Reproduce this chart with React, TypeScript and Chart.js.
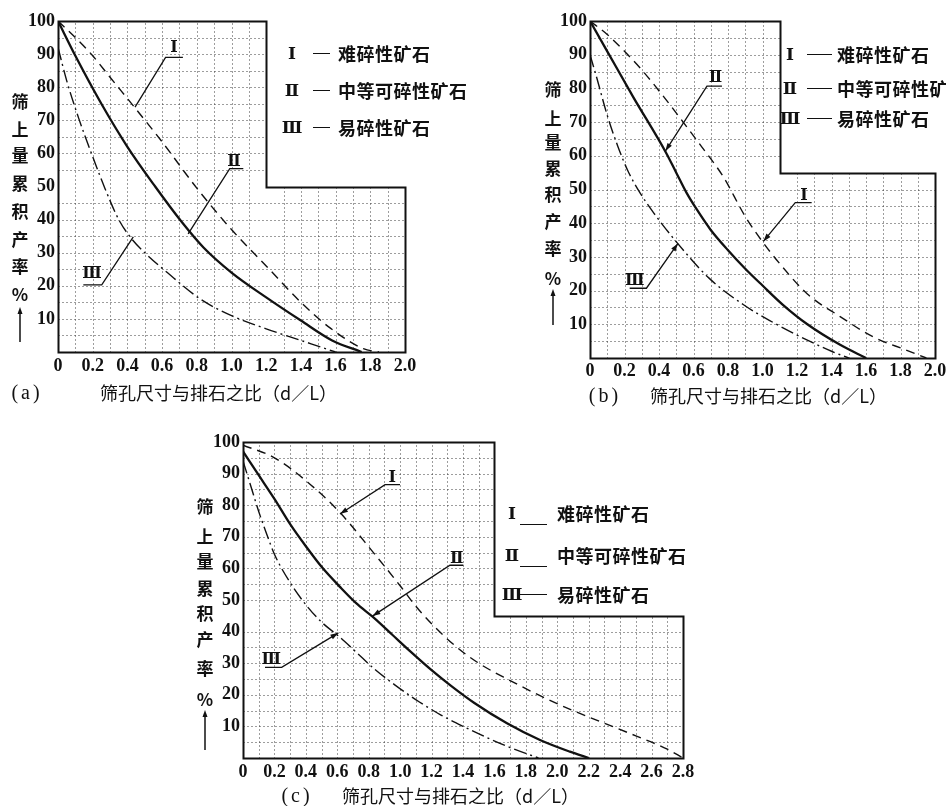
import React, { useEffect, useRef } from 'react';
import { Chart, registerables } from 'chart.js';

Chart.register(...registerables);

// ---------- text ----------
const romanLabels = ['Ⅰ', 'Ⅱ', 'Ⅲ'];
const seriesNames = ['难碎性矿石', '中等可碎性矿石', '易碎性矿石'];
const yTitleChars = ['筛', '上', '量', '累', '积', '产', '率', '%'];
const xTitle = '筛孔尺寸与排石之比（d／L）';
const panelTags = ['(a)', '(b)', '(c)'];

// ---------- tick labels ----------
const xLabelsAB = ['0', '0.2', '0.4', '0.6', '0.8', '1.0', '1.2', '1.4', '1.6', '1.8', '2.0'];
const xLabelsC = ['0', '0.2', '0.4', '0.6', '0.8', '1.0', '1.2', '1.4', '1.6', '1.8', '2.0', '2.2', '2.4', '2.6', '2.8'];
const yLabels = ['10', '20', '30', '40', '50', '60', '70', '80', '90', '100'];

// ---------- data: [d/L, cumulative oversize %] ----------
// (a)
const aHard = [[0, 100], [0.1, 95], [0.2, 89.5], [0.3, 83], [0.44, 74], [0.6, 63.5], [0.8, 49.5], [1.0, 37], [1.2, 26], [1.4, 15], [1.57, 7.2], [1.76, 1], [1.85, 0]];
const aMedium = [[0, 100], [0.1, 89.5], [0.25, 75], [0.4, 62], [0.56, 50], [0.71, 39.5], [0.84, 31.5], [1.0, 24], [1.2, 16.5], [1.4, 9.5], [1.58, 3.5], [1.75, 0]];
const aEasy = [[0, 92], [0.05, 82], [0.12, 70.5], [0.2, 59], [0.27, 49.5], [0.35, 40], [0.42, 34.5], [0.5, 30], [0.63, 24], [0.82, 16], [1.0, 11], [1.2, 7], [1.4, 3.5], [1.6, 0]];
// (b)
const bHard = [[0, 100], [0.1, 96], [0.2, 91], [0.3, 85.5], [0.42, 78], [0.54, 70], [0.65, 62.5], [0.77, 54], [0.9, 42], [1.0, 34.5], [1.1, 28], [1.26, 19], [1.45, 12.3], [1.64, 6.3], [1.83, 2.4], [1.95, 0]];
const bMedium = [[0, 100], [0.1, 91], [0.25, 77.5], [0.44, 61], [0.5, 55], [0.56, 49], [0.62, 44], [0.7, 38], [0.8, 32], [0.9, 26.5], [1.0, 21.5], [1.12, 15.7], [1.26, 10], [1.45, 3.9], [1.6, 0]];
const bEasy = [[0, 90], [0.04, 83], [0.1, 72], [0.16, 63], [0.22, 55.5], [0.29, 49], [0.37, 43], [0.5, 34.5], [0.69, 23.7], [0.89, 15.8], [1.07, 10.3], [1.26, 5.3], [1.4, 2], [1.5, 0]];
// (c)
const cHard = [[0, 99], [0.2, 95], [0.43, 86.5], [0.62, 77.5], [0.83, 65], [1.0, 54.5], [1.1, 48], [1.2, 42.5], [1.35, 35.5], [1.5, 30], [1.7, 24.5], [1.9, 19.5], [2.1, 15], [2.3, 11], [2.5, 7], [2.7, 2.8], [2.8, 0]];
const cMedium = [[0, 97], [0.1, 89.5], [0.2, 82], [0.3, 74], [0.4, 67], [0.5, 60.5], [0.62, 54], [0.72, 49], [0.83, 44.5], [0.95, 39], [1.07, 33.5], [1.2, 27.8], [1.32, 23], [1.47, 17.5], [1.68, 11], [1.89, 5.7], [2.08, 2], [2.2, 0]];
const cEasy = [[0, 94], [0.05, 86], [0.1, 78], [0.15, 71], [0.2, 64.5], [0.3, 55.5], [0.4, 48.5], [0.5, 43], [0.61, 38.5], [0.72, 33.5], [0.84, 28], [0.97, 23], [1.12, 17.8], [1.26, 13.6], [1.41, 9.8], [1.55, 6.5], [1.7, 3.3], [1.88, 0]];

// callouts (leader lines) in data coordinates: tip on curve, corner, bar end
const calloutsA = [
  { series: 0, path: [[0.444, 74], [0.62, 89], [0.72, 89]], label: [0.668, 91.8] },
  { series: 1, path: [[0.75, 35.7], [0.99, 55.4], [1.068, 55.4]], label: [1.015, 57.6] },
  { series: 2, path: [[0.434, 34.8], [0.252, 20.3], [0.146, 20.3]], label: [0.196, 23.6] },
];
const calloutsB = [
  { series: 1, path: [[0.437, 61.4], [0.678, 80.7], [0.765, 80.7]], label: [0.727, 83] },
  { series: 0, path: [[1.005, 34.6], [1.19, 46.1], [1.285, 46.1]], label: [1.24, 48.2] },
  { series: 2, path: [[0.51, 34], [0.327, 20.7], [0.23, 20.7]], label: [0.26, 22.8] },
];
const calloutsC = [
  { series: 0, path: [[0.617, 77.2], [0.904, 86.5], [0.999, 86.5]], label: [0.95, 88.6] },
  { series: 1, path: [[0.824, 44.9], [1.317, 61], [1.402, 61]], label: [1.36, 63] },
  { series: 2, path: [[0.607, 39.6], [0.246, 28.7], [0.14, 28.7]], label: [0.18, 31] },
];

const lineStyles = [
  { dash: [9, 6], width: 1.4 },
  { dash: [] as number[], width: 2.3 },
  { dash: [13, 4, 2, 4], width: 1.4 },
];

const CJK = '"Noto Sans CJK SC", sans-serif';
const SERIF = '"Liberation Serif", serif';
const NUMERAL = '"DejaVu Serif", "Noto Sans CJK SC", serif';

type Spec = {
  id: number;
  canvas: { left: number; top: number; w: number; h: number };
  area: { left: number; top: number; right: number; bottom: number };
  xMax: number;
  xLabels: string[];
  stepX: number;
  stepY: number;
  series: number[][][];
  callouts: { series: number; path: number[][]; label: number[] }[];
  arrows: boolean;
  tickPadX: number;
  yTitle: { x: number; ys: number[]; arrow: number[] };
  xTitleAt: { tagX: number; textX: number; y: number };
  legend: { numX: number; lineX1: number; lineX2: number; lineDy: number[]; textX: number; ys: number[]; names: string[] };
};

const specs: Spec[] = [
  {
    id: 0,
    canvas: { left: 8, top: 5, w: 420, h: 380 },
    area: { left: 50, top: 16, right: 397, bottom: 347 },
    xMax: 2.0, xLabels: xLabelsAB, stepX: 1.2, stepY: 50,
    series: [aHard, aMedium, aEasy], callouts: calloutsA, arrows: false, tickPadX: 4,
    yTitle: { x: 20, ys: [100, 128, 154, 182, 210, 238, 265, 293], arrow: [307, 342] },
    xTitleAt: { tagX: 27, textX: 100, y: 392 },
    legend: { numX: 292, lineX1: 313, lineX2: 330, lineDy: [0, 0, 0], textX: 338, ys: [53, 90, 127], names: seriesNames },
  },
  {
    id: 1,
    canvas: { left: 540, top: 5, w: 420, h: 380 },
    area: { left: 50, top: 16, right: 395, bottom: 353 },
    xMax: 2.0, xLabels: xLabelsAB, stepX: 1.1, stepY: 55,
    series: [bHard, bMedium, bEasy], callouts: calloutsB, arrows: true, tickPadX: 3,
    yTitle: { x: 553, ys: [88, 117, 141, 167, 193, 220, 247, 277], arrow: [289, 325] },
    xTitleAt: { tagX: 605, textX: 650, y: 395 },
    legend: { numX: 790, lineX1: 807, lineX2: 832, lineDy: [0, 0, 0], textX: 837, ys: [54, 88, 118], names: seriesNames },
  },
  {
    id: 2,
    canvas: { left: 195, top: 426, w: 520, h: 380 },
    area: { left: 48, top: 16, right: 488, bottom: 332 },
    xMax: 2.8, xLabels: xLabelsC, stepX: 1.6, stepY: 45,
    series: [cHard, cMedium, cEasy], callouts: calloutsC, arrows: true, tickPadX: 4,
    yTitle: { x: 205, ys: [505, 535, 560, 587, 612, 638, 667, 698], arrow: [710, 750] },
    xTitleAt: { tagX: 297, textX: 342, y: 795 },
    legend: { numX: 512, lineX1: 520, lineX2: 547, lineDy: [11, 11, 0], textX: 557, ys: [513, 555, 594], names: seriesNames },
  },
];

function buildChart(canvas: HTMLCanvasElement, spec: Spec) {
  const framePlugin = {
    id: 'lframe' + spec.id,
    beforeDatasetsDraw(chart: any) {
      const { ctx } = chart;
      const xs = chart.scales.x;
      const ys = chart.scales.y;
      const px = (v: number) => Math.round(xs.getPixelForValue(v)) + 0.5;
      const py = (v: number) => Math.round(ys.getPixelForValue(v)) + 0.5;
      ctx.save();
      // dotted grid inside the L-shaped field
      ctx.strokeStyle = '#3a3a3a';
      ctx.lineWidth = 1;
      ctx.setLineDash([1, 3]);
      const nx = Math.round(spec.xMax * 10);
      for (let k = 1; k < nx; k++) {
        const v = k / 10;
        if (Math.abs(v - spec.stepX) < 1e-6) continue;
        const top = v < spec.stepX ? 100 : spec.stepY;
        ctx.beginPath();
        ctx.moveTo(px(v), py(0));
        ctx.lineTo(px(v), py(top));
        ctx.stroke();
      }
      for (let k = 1; k < 20; k++) {
        const v = k * 5;
        if (Math.abs(v - spec.stepY) < 1e-6) continue;
        const right = v > spec.stepY ? spec.stepX : spec.xMax;
        ctx.beginPath();
        ctx.moveTo(px(0), py(v));
        ctx.lineTo(px(right), py(v));
        ctx.stroke();
      }
      // L-shaped frame
      ctx.setLineDash([]);
      ctx.strokeStyle = '#111';
      ctx.lineWidth = 2;
      ctx.beginPath();
      ctx.moveTo(px(0), py(0));
      ctx.lineTo(px(0), py(100));
      ctx.lineTo(px(spec.stepX), py(100));
      ctx.lineTo(px(spec.stepX), py(spec.stepY));
      ctx.lineTo(px(spec.xMax), py(spec.stepY));
      ctx.lineTo(px(spec.xMax), py(0));
      ctx.closePath();
      ctx.stroke();
      ctx.restore();
    },
    afterDatasetsDraw(chart: any) {
      const { ctx } = chart;
      const xs = chart.scales.x;
      const ys = chart.scales.y;
      ctx.save();
      ctx.strokeStyle = '#111';
      ctx.fillStyle = '#111';
      ctx.lineWidth = 1.3;
      ctx.setLineDash([]);
      for (const c of spec.callouts) {
        const pts = c.path.map(([x, y]) => [xs.getPixelForValue(x), ys.getPixelForValue(y)]);
        ctx.beginPath();
        ctx.moveTo(pts[0][0], pts[0][1]);
        for (let i = 1; i < pts.length; i++) ctx.lineTo(pts[i][0], pts[i][1]);
        ctx.stroke();
        if (spec.arrows) {
          const [tx, ty] = pts[0];
          const [ox, oy] = pts[1];
          const a = Math.atan2(ty - oy, tx - ox);
          const L = 8, W = 2.6;
          ctx.beginPath();
          ctx.moveTo(tx, ty);
          ctx.lineTo(tx - L * Math.cos(a) + W * Math.sin(a), ty - L * Math.sin(a) - W * Math.cos(a));
          ctx.lineTo(tx - L * Math.cos(a) - W * Math.sin(a), ty - L * Math.sin(a) + W * Math.cos(a));
          ctx.closePath();
          ctx.fill();
        }
        ctx.font = `bold 16px ${NUMERAL}`;
        ctx.textAlign = 'center';
        ctx.textBaseline = 'middle';
        ctx.fillText(romanLabels[c.series], xs.getPixelForValue(c.label[0]), ys.getPixelForValue(c.label[1]));
      }
      ctx.restore();
    },
  };

  const c = spec.canvas;
  const a = spec.area;
  return new Chart(canvas, {
    type: 'line',
    data: {
      datasets: spec.series.map((s, i) => ({
        label: seriesNames[i],
        data: s.map(([x, y]) => ({ x, y })),
        borderColor: '#111',
        borderWidth: lineStyles[i].width,
        borderDash: lineStyles[i].dash,
        pointRadius: 0,
        fill: false,
        cubicInterpolationMode: 'monotone' as const,
      })),
    },
    options: {
      responsive: false,
      animation: false,
      devicePixelRatio: 1,
      layout: { padding: { top: a.top, right: c.w - a.right, left: 0, bottom: 0 } },
      plugins: { legend: { display: false }, tooltip: { enabled: false } },
      scales: {
        x: {
          type: 'linear',
          min: 0,
          max: spec.xMax,
          grid: { display: false, drawTicks: false },
          border: { display: false },
          ticks: {
            stepSize: 0.2,
            autoSkip: false,
            maxRotation: 0,
            padding: spec.tickPadX,
            color: '#111',
            font: { family: '"Liberation Serif"', size: 18, weight: 'bold' },
            callback: (_v: any, i: number) => spec.xLabels[i],
          },
          afterFit: (s: any) => {
            s.height = c.h - a.bottom;
            s.paddingLeft = 0;
            s.paddingRight = 0;
          },
        },
        y: {
          type: 'linear',
          min: 0,
          max: 100,
          grid: { display: false, drawTicks: false },
          border: { display: false },
          ticks: {
            stepSize: 10,
            autoSkip: false,
            padding: 3,
            color: '#111',
            font: { family: '"Liberation Serif"', size: 18, weight: 'bold' },
            callback: (_v: any, i: number) => (i === 0 ? '' : yLabels[i - 1]),
          },
          afterFit: (s: any) => {
            s.width = a.left;
            s.paddingTop = 0;
            s.paddingBottom = 0;
          },
        },
      },
    } as any,
    plugins: [framePlugin],
  });
}

const abs = (x: number, y: number, extra: React.CSSProperties = {}): React.CSSProperties => ({
  position: 'absolute', left: x, top: y, whiteSpace: 'nowrap', lineHeight: 1, color: '#111', ...extra,
});

function Panel({ spec }: { spec: Spec }) {
  const ref = useRef<HTMLCanvasElement>(null);
  useEffect(() => {
    const chart = buildChart(ref.current as HTMLCanvasElement, spec);
    return () => chart.destroy();
  }, [spec]);
  const c = spec.canvas;
  const yt = spec.yTitle;
  const lg = spec.legend;
  const xt = spec.xTitleAt;
  return (
    <>
      <canvas ref={ref} width={c.w} height={c.h} style={{ position: 'absolute', left: c.left, top: c.top, width: c.w, height: c.h }} />
      {yTitleChars.map((ch, i) => (
        <div key={'yt' + i} style={abs(yt.x, yt.ys[i], { transform: 'translate(-50%,-50%)', fontFamily: CJK, fontWeight: 700, fontSize: 17 })}>{ch}</div>
      ))}
      <svg style={{ position: 'absolute', left: yt.x - 5, top: yt.arrow[0], overflow: 'visible' }} width={10} height={yt.arrow[1] - yt.arrow[0]}>
        <line x1={5} y1={4} x2={5} y2={yt.arrow[1] - yt.arrow[0]} stroke="#111" strokeWidth={1.5} />
        <polygon points="5,0 2.5,7 7.5,7" fill="#111" />
      </svg>
      <div style={abs(xt.tagX, xt.y, { transform: 'translate(-50%,-50%)', fontFamily: SERIF, fontSize: 20, letterSpacing: 3 })}>{panelTags[spec.id]}</div>
      <div style={abs(xt.textX, xt.y, { transform: 'translateY(-50%)', fontFamily: CJK, fontSize: 18 })}>{xTitle}</div>
      {lg.names.map((name, i) => (
        <React.Fragment key={'lg' + i}>
          <div style={abs(lg.numX, lg.ys[i], { transform: 'translate(-50%,-50%)', fontFamily: NUMERAL, fontWeight: 700, fontSize: 17 })}>{romanLabels[i]}</div>
          <div style={{ position: 'absolute', left: lg.lineX1, top: lg.ys[i] + lg.lineDy[i], width: lg.lineX2 - lg.lineX1, height: 0, borderTop: '1.5px solid #111' }} />
          <div style={abs(lg.textX, lg.ys[i], { transform: 'translateY(-50%)', fontFamily: CJK, fontWeight: 700, fontSize: 18, letterSpacing: 0.5 })}>{name}</div>
        </React.Fragment>
      ))}
    </>
  );
}

export default function App() {
  return (
    <div style={{ position: 'absolute', left: 0, top: 0, width: 946, height: 806, overflow: 'hidden', background: '#fff' }}>
      {specs.map((s) => (
        <Panel key={s.id} spec={s} />
      ))}
    </div>
  );
}
